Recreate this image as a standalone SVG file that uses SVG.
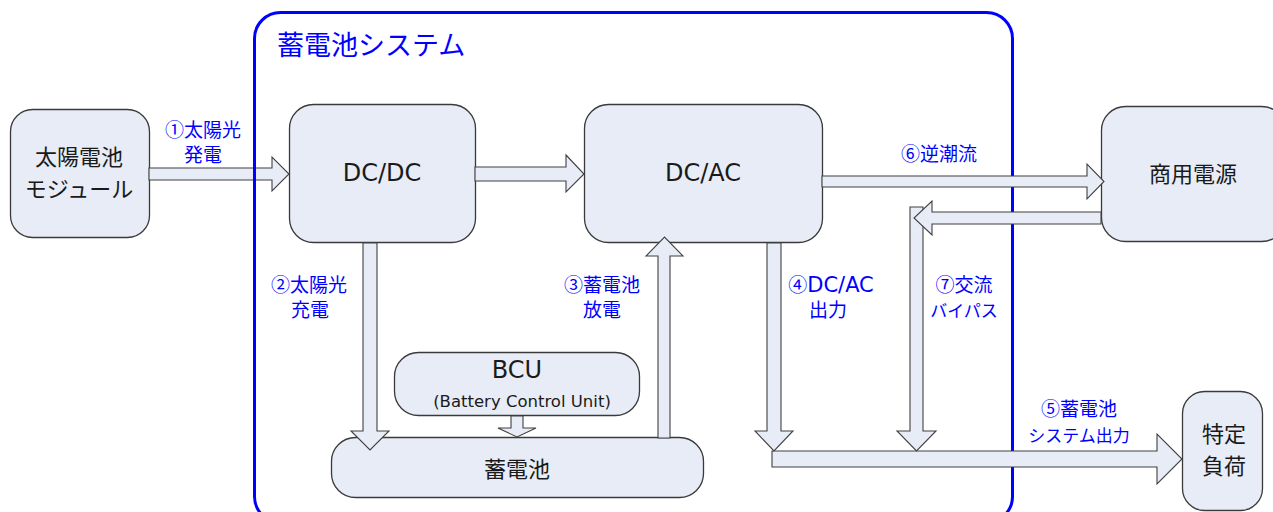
<svg xmlns="http://www.w3.org/2000/svg" width="1273" height="512" viewBox="0 0 1273 512">
<style>
.box{fill:#E7ECF6;stroke:#3a3a3a;stroke-width:1.3}
.arr{fill:#E7ECF6;stroke:#404040;stroke-width:1.1;stroke-linejoin:miter}
.frame{fill:none;stroke:#0000FF;stroke-width:3}
.jp{font-family:"Noto Sans CJK JP","Noto Sans",sans-serif;fill:#1a1a1a;text-anchor:middle;font-size:22px}
.lat{font-family:"DejaVu Sans","Noto Sans CJK JP",sans-serif;fill:#1a1a1a;text-anchor:middle}
.lbl{font-family:"Noto Sans CJK JP","Noto Sans",sans-serif;fill:#0000FF;font-size:19px;text-anchor:middle}
.kana{font-size:17px}
.title{font-family:"Noto Sans CJK JP",sans-serif;fill:#0000FF;font-size:27px}
</style>
<rect width="1273" height="512" fill="#ffffff"/>
<g id="system">
<rect class="frame" x="254.5" y="12.5" width="758" height="510" rx="26"/>
<text class="title" x="277" y="55">蓄電池システム</text>
</g>
<g id="solar">
<rect class="box" x="10.5" y="109.5" width="139" height="128" rx="22"/>
<text class="jp" x="79" y="165">太陽電池</text>
<text class="jp" x="79" y="197">モジュール</text>
</g>
<g id="dcdc">
<rect class="box" x="289.5" y="104.5" width="186" height="138" rx="24"/>
<text class="lat" x="382" y="181" font-size="24">DC/DC</text>
</g>
<g id="dcac">
<rect class="box" x="584.5" y="104.5" width="238" height="138" rx="24"/>
<text class="lat" x="703" y="181" font-size="24">DC/AC</text>
</g>
<g id="grid">
<rect class="box" x="1101.5" y="106.5" width="184" height="135" rx="24"/>
<text class="jp" x="1193" y="182" font-size="24">商用電源</text>
</g>
<g id="load">
<rect class="box" x="1182.5" y="391.5" width="80" height="119" rx="22"/>
<text class="jp" x="1224" y="442">特定</text>
<text class="jp" x="1224" y="474">負荷</text>
</g>
<g id="bcu">
<rect class="box" x="394.5" y="352.5" width="245" height="63" rx="24"/>
<text class="lat" x="517" y="378" font-size="24">BCU</text>
<text class="lat" x="522" y="407" font-size="16.5">(Battery Control Unit)</text>
</g>
<g id="battery">
<rect class="box" x="331.5" y="437.5" width="372" height="60" rx="24"/>
<text class="jp" x="517" y="477" font-size="24">蓄電池</text>
</g>
<g id="connectors">
<polygon class="arr" points="149,168 272,168 272,157 289,174 272,191 272,180 149,180"/>
<polygon class="arr" points="475,167 566,167 566,155 584,174 566,192 566,181 475,181"/>
<polygon class="arr" points="822,176 1087,176 1087,164 1104,181.5 1087,199 1087,187 822,187"/>
<polygon class="arr" points="772,451 1157,451 1157,434 1182,459 1157,484 1157,467 772,467"/>
<polygon class="arr" points="910,207 923,207 923,431 936,431 916.5,451 897,431 910,431"/>
<polygon class="arr" points="1101,212 932,212 932,201 914,218 932,235 932,224 1101,224"/>
<polygon class="arr" points="767,243 781,243 781,431 793,431 774,451 755,431 767,431"/>
<polygon class="arr" points="363,243 377,243 377,431 389,431 370,450 351,431 363,431"/>
<polygon class="arr" points="658,438 670,438 670,256 683,256 664.5,237 646,256 658,256"/>
<polygon class="arr" points="511,416 523,416 523,428 536,428 517,437 498,428 511,428"/>
<line x1="254.5" y1="160" x2="254.5" y2="190" stroke="#0000FF" stroke-width="3"/>
</g>
<g id="labels">
<text class="lbl" x="203" y="137">①太陽光</text>
<text class="lbl" x="203" y="162">発電</text>
<text class="lbl" x="309" y="292">②太陽光</text>
<text class="lbl" x="310" y="317">充電</text>
<text class="lbl" x="602" y="292">③蓄電池</text>
<text class="lbl" x="602" y="317">放電</text>
<text class="lbl" x="831" y="292">④<tspan font-family="DejaVu Sans,sans-serif" font-size="21">DC/AC</tspan></text>
<text class="lbl" x="828" y="317">出力</text>
<text class="lbl" x="964" y="292">⑦交流</text>
<text class="lbl kana" x="964" y="317">バイパス</text>
<text class="lbl" x="939" y="161">⑥逆潮流</text>
<text class="lbl" x="1079" y="416">⑤蓄電池</text>
<text class="lbl kana" x="1079" y="442">システム出力</text>
</g>
</svg>
